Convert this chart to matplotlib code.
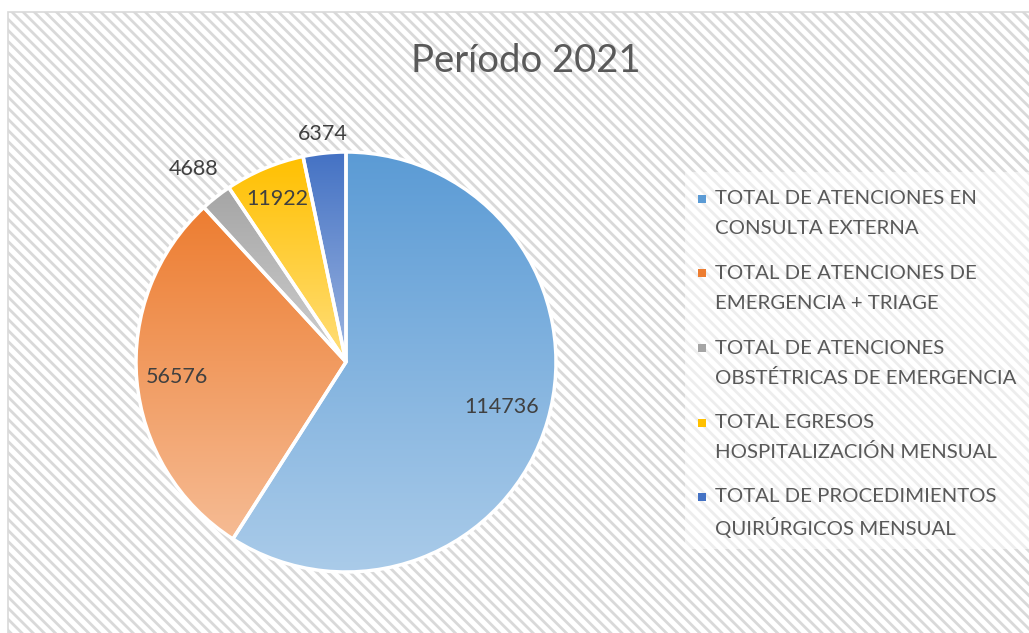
import numpy as np
import matplotlib.pyplot as plt
from matplotlib.patches import Rectangle
from matplotlib.colors import to_rgb

plt.rcParams['font.family'] = ['Lato', 'DejaVu Sans']
plt.rcParams['hatch.linewidth'] = 2.0
plt.rcParams['hatch.color'] = '#ebebeb'

title = "Período 2021"
categories = [
    "TOTAL DE ATENCIONES EN\nCONSULTA EXTERNA",
    "TOTAL DE ATENCIONES DE\nEMERGENCIA + TRIAGE",
    "TOTAL DE ATENCIONES\nOBSTÉTRICAS DE EMERGENCIA",
    "TOTAL EGRESOS\nHOSPITALIZACIÓN MENSUAL",
    "TOTAL DE PROCEDIMIENTOS\nQUIRÚRGICOS MENSUAL",
]
values = [114736, 56576, 4688, 11922, 6374]
colors = ['#5b9bd5', '#ed7d31', '#a5a5a5', '#ffc000', '#4472c4']
label_dist = [0.77, 0.81, 1.17, 0.84, 1.09]

W, H = 1029, 633
fig = plt.figure(figsize=(W / 100, H / 100), dpi=100)
fig.patch.set_facecolor('white')

# chart area with diagonal hatch
bg = Rectangle((8 / W, -0.01), 1.0, 1 - 12 / H + 0.01, transform=fig.transFigure,
               facecolor='white', edgecolor='#d9d9d9', linewidth=1.2, hatch='\\\\\\', zorder=-2)
fig.patches.append(bg)
leg_bg = Rectangle((685 / W, 1 - 549 / H), (1029 - 685) / W, (549 - 172) / H,
                   transform=fig.transFigure, facecolor='white', alpha=0.55,
                   edgecolor='none', zorder=-1)
fig.patches.append(leg_bg)

fig.text(526 / W, 1 - 61 / H, title, ha='center', va='center', fontsize=27.5, color='#595959')

cx, cy, r = 346, 362, 210
ax = fig.add_axes([(cx - r) / W, (H - cy - r) / H, 2 * r / W, 2 * r / H])
ax.set_facecolor('none')
wedges, _ = ax.pie(values, startangle=90, counterclock=False, radius=1,
                   colors=colors,
                   wedgeprops=dict(edgecolor='white', linewidth=2.5))
ax.set_aspect('equal')
ax.axis('off')

# vertical gradient fill in each wedge
for w, c, v, d in zip(wedges, colors, values, label_dist):
    base = np.array(to_rgb(c))
    light = base + (1 - base) * 0.48
    bb = w.get_path().get_extents(w.get_patch_transform())
    t = np.linspace(0, 1, 256)[:, None]
    grad = base[None, :] * (1 - t) + light[None, :] * t
    img = np.repeat(grad[:, None, :], 2, axis=1)
    im = ax.imshow(img, extent=[bb.x0, bb.x1, bb.y0, bb.y1], origin='upper',
                   aspect='auto', zorder=1.5)
    im.set_clip_path(w)
    w.set_facecolor('none')
    w.set_zorder(2)
    ang = np.deg2rad((w.theta1 + w.theta2) / 2)
    ax.text(d * np.cos(ang), d * np.sin(ang), f"{v}", ha='center', va='center',
            fontsize=15.5, color='#404040', zorder=3)
ax.set_xlim(-1, 1)
ax.set_ylim(-1, 1)

# legend
y0, step, lh = 199, 74.5, 30
for i, (lab, c) in enumerate(zip(categories, colors)):
    y = y0 + i * step
    fig.patches.append(Rectangle((698 / W, 1 - (y + 4) / H), 8 / W, 8 / H,
                                 transform=fig.transFigure, facecolor=c,
                                 edgecolor='none', zorder=3))
    for j, line in enumerate(lab.split('\n')):
        fig.text(715 / W, 1 - (y + j * lh) / H, line, ha='left', va='center',
                 fontsize=14.7, color='#595959')

fig.savefig('out.png', dpi=100)
